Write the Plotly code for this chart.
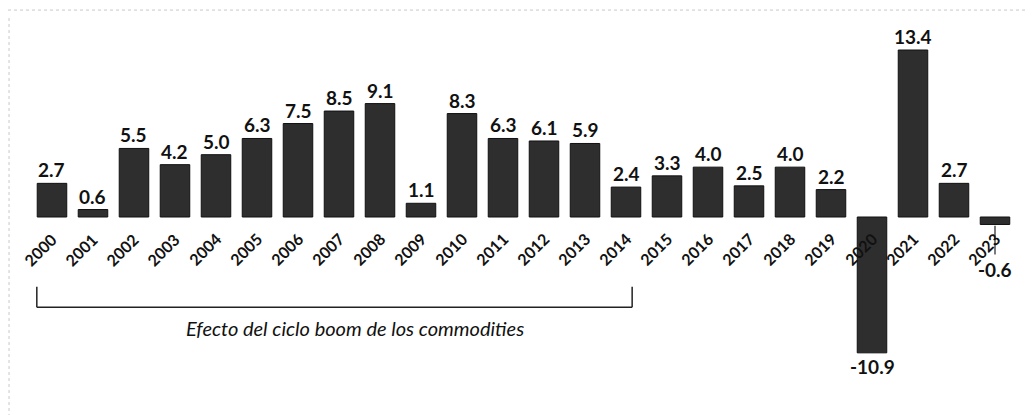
import plotly.graph_objects as go

years = [str(y) for y in range(2000, 2024)]
values = [2.7, 0.6, 5.5, 4.2, 5.0, 6.3, 7.5, 8.5, 9.1, 1.1, 8.3, 6.3, 6.1, 5.9,
          2.4, 3.3, 4.0, 2.5, 4.0, 2.2, -10.9, 13.4, 2.7, -0.6]
bracket_start, bracket_end = "2000", "2014"
bracket_text = "Efecto del ciclo boom de los commodities"

xs = list(range(len(years)))
FONT = "Lato"

fig = go.Figure()
fig.add_trace(go.Bar(
    x=xs, y=values, width=0.72,
    marker=dict(color="#2e2e2e", line=dict(color="#111111", width=1)),
    hoverinfo="skip",
))

ann = []
for i, (yr, v) in enumerate(zip(years, values)):
    ann.append(dict(x=i, y=0, xref="x", yref="y", text=yr, showarrow=False,
                    textangle=-45, xshift=-12, yshift=-32,
                    font=dict(family=FONT, size=16, color="#111111", weight="bold")))
    if v >= 0:
        ann.append(dict(x=i, y=v, xref="x", yref="y", text=f"{v:.1f}", showarrow=False,
                        yanchor="bottom", yshift=0,
                        font=dict(family=FONT, size=19, color="#111111", weight="bold")))
    else:
        shift = -32 if yr == "2023" else 0
        ann.append(dict(x=i, y=v, xref="x", yref="y", text=f"{v:.1f}", showarrow=False,
                        yanchor="top", yshift=shift,
                        font=dict(family=FONT, size=19, color="#111111", weight="bold")))

i0 = years.index(bracket_start)
i1 = years.index(bracket_end)
bl = i0 - 0.37
br = i1 + 0.15
ytop, ybot = -5.6, -7.25
LINE = dict(color="#222", width=1.5)
shapes = [
    dict(type="line", x0=bl, x1=bl, y0=ytop, y1=ybot, xref="x", yref="y", line=LINE),
    dict(type="line", x0=bl, x1=br, y0=ybot, y1=ybot, xref="x", yref="y", line=LINE),
    dict(type="line", x0=br, x1=br, y0=ytop, y1=ybot, xref="x", yref="y", line=LINE),
]
i_last = years.index("2023")
shapes.append(dict(type="line", x0=i_last, x1=i_last, y0=-0.7, y1=-3.0, xref="x", yref="y",
                   line=dict(color="#222", width=1.2)))
# faint scan border lines
shapes.append(dict(type="line", x0=0.001, x1=0.001, y0=0, y1=0.98, xref="paper", yref="paper",
                   line=dict(color="#c8c8c8", width=1, dash="dot")))
shapes.append(dict(type="line", x0=0.0, x1=1.0, y0=0.995, y1=0.995, xref="paper", yref="paper",
                   line=dict(color="#c8c8c8", width=1, dash="dot")))

ann.append(dict(x=(i0 + i1) / 2 + 0.4, y=ybot, xref="x", yref="y", text=bracket_text,
                showarrow=False, yanchor="top", yshift=-7,
                font=dict(family=FONT, size=20, color="#111111", style="italic")))

fig.update_layout(
    width=1036, height=415,
    margin=dict(l=0, r=0, t=0, b=0),
    paper_bgcolor="white", plot_bgcolor="white",
    showlegend=False,
    annotations=ann, shapes=shapes,
    xaxis=dict(range=[-1.073, 24.195], visible=False, fixedrange=True),
    yaxis=dict(range=[-16.53, 16.77], visible=False, fixedrange=True),
)
fig.write_html("out.html")
